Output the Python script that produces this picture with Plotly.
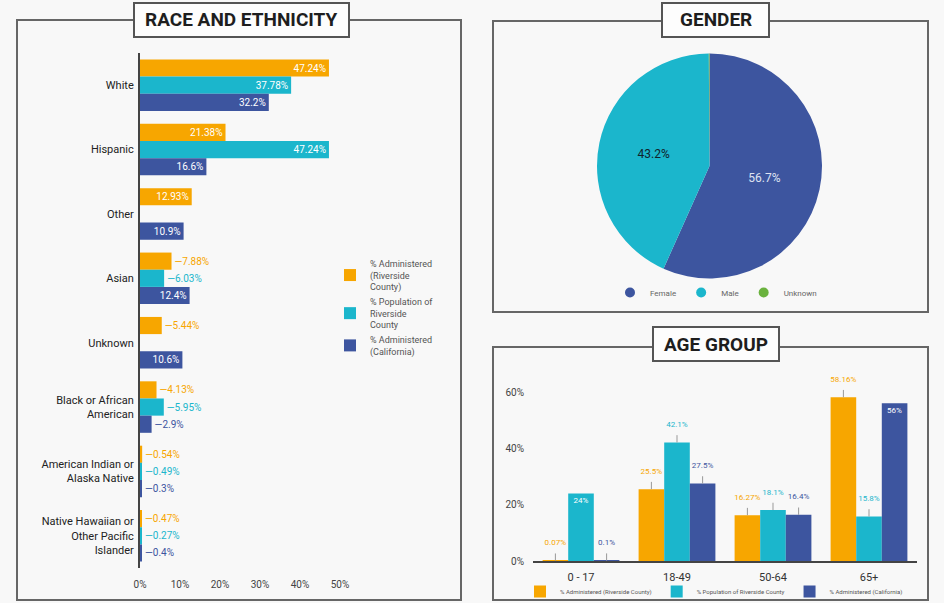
import plotly.graph_objects as go

# ---- data ----
race_cats = ["White", "Hispanic", "Other", "Asian", "Unknown",
             "Black or African<br>American", "American Indian or<br>Alaska Native",
             "Native Hawaiian or<br>Other Pacific<br>Islander"]
race_admin_riv = [47.24, 21.38, 12.93, 7.88, 5.44, 4.13, 0.54, 0.47]
race_pop_riv = [37.78, 47.24, None, 6.03, None, 5.95, 0.49, 0.27]
race_admin_ca = [32.2, 16.6, 10.9, 12.4, 10.6, 2.9, 0.3, 0.4]
race_ticks = [0, 10, 20, 30, 40, 50]

gender_labels = ["Female", "Male", "Unknown"]
gender_values = [56.7, 43.2, 0.1]

age_cats = ["0 - 17", "18-49", "50-64", "65+"]
age_admin_riv = [0.07, 25.5, 16.27, 58.16]
age_pop_riv = [24, 42.1, 18.1, 15.8]
age_admin_ca = [0.1, 27.5, 16.4, 56]
age_ticks = [0, 20, 40, 60]

series_names = ["% Administered<br>(Riverside<br>County)",
                "% Population of<br>Riverside<br>County",
                "% Administered<br>(California)"]
age_series_names = ["% Administered (Riverside County)",
                    "% Population of Riverside County",
                    "% Administered (California)"]

ORANGE = "#f7a600"
TEAL = "#1bb6cc"
BLUE = "#3d559f"
GREEN = "#6ab23e"
BG = "#f8f8f8"
W, H = 944, 603


def px(x):
    return x / W


def py(y):
    return 1 - y / H


fig = go.Figure()

# race and ethnicity (horizontal bars)
for vals, name, col in zip([race_admin_riv, race_pop_riv, race_admin_ca], series_names,
                           [ORANGE, TEAL, BLUE]):
    text, pos = [], []
    for v in vals:
        if v is None:
            text.append("")
            pos.append("none")
        elif v >= 10:
            text.append(f"{v}%")
            pos.append("inside")
        else:
            text.append(f"—{v}%")
            pos.append("outside")
    fig.add_trace(go.Bar(
        y=race_cats, x=vals, orientation="h", name=name,
        marker=dict(color=col, line=dict(width=0)),
        text=text, textposition=pos, insidetextanchor="end",
        insidetextfont=dict(color="white", size=10),
        outsidetextfont=dict(color=col, size=10),
        constraintext="none", cliponaxis=False,
        xaxis="x", yaxis="y", legend="legend"))

# age group (vertical bars)
for vals, name, col in zip([age_admin_riv, age_pop_riv, age_admin_ca], age_series_names,
                           [ORANGE, TEAL, BLUE]):
    text, pos, err = [], [], []
    for v in vals:
        if v in (24, 56):
            text.append(f"{v}%")
            pos.append("inside")
            err.append(0)
        else:
            text.append(f"{v}%<br> ")
            pos.append("outside")
            err.append(2.6)
    fig.add_trace(go.Bar(
        x=age_cats, y=vals, name=name,
        marker=dict(color=col, line=dict(width=0)),
        text=text, textposition=pos, insidetextanchor="end",
        insidetextfont=dict(color="white", size=8),
        outsidetextfont=dict(color=col, size=8),
        error_y=dict(type="data", array=err, arrayminus=[0] * 4, symmetric=False,
                     color="#999999", thickness=1, width=0),
        constraintext="none", cliponaxis=False,
        xaxis="x2", yaxis="y2", legend="legend2"))

# gender pie
fig.add_trace(go.Pie(
    labels=gender_labels, values=gender_values, sort=False, direction="clockwise",
    rotation=0, marker=dict(colors=[BLUE, TEAL, GREEN]),
    text=[f"{v}%" for v in gender_values[:2]] + [""], textinfo="text",
    textposition="inside",
    insidetextfont=dict(color=["#dfe3f2", "#10232b", "white"], size=12),
    domain=dict(x=[px(597), px(822)], y=[py(279), py(53)]),
    showlegend=False, hoverinfo="label+value"))

for lab, col in zip(gender_labels, [BLUE, TEAL, GREEN]):
    fig.add_trace(go.Scatter(x=[None], y=[None], mode="markers", name=lab,
                             marker=dict(color=col, size=10, symbol="circle"),
                             xaxis="x2", yaxis="y2", legend="legend3"))

# panel frames and title boxes
shapes = []
for x0, y0, x1, y1 in [(17, 20, 461, 600), (493, 21, 928, 312), (493, 347, 928, 600)]:
    shapes.append(dict(type="rect", xref="paper", yref="paper",
                       x0=px(x0), x1=px(x1), y0=py(y1), y1=py(y0),
                       line=dict(color="#666666", width=2), fillcolor="rgba(0,0,0,0)"))
titles = [("RACE AND ETHNICITY", 134, 3, 349, 37), ("GENDER", 662, 3, 769, 37),
          ("AGE GROUP", 653, 327, 779, 361)]
annotations = []
for t, x0, y0, x1, y1 in titles:
    shapes.append(dict(type="rect", xref="paper", yref="paper",
                       x0=px(x0), x1=px(x1), y0=py(y1), y1=py(y0),
                       line=dict(color="#555555", width=2), fillcolor="#fdfdfd"))
    annotations.append(dict(text=f"<b>{t}</b>", xref="paper", yref="paper",
                            x=px((x0 + x1) / 2), y=py((y0 + y1) / 2),
                            showarrow=False, xanchor="center", yanchor="middle",
                            font=dict(family="Roboto", size=19, color="#1e1e1e")))

fig.update_layout(
    width=W, height=H, margin=dict(l=0, r=0, t=0, b=0, autoexpand=False),
    paper_bgcolor=BG, plot_bgcolor=BG,
    font=dict(family="Roboto, Liberation Sans, sans-serif", color="#333333"),
    barmode="group", bargap=0.2, bargroupgap=0,
    shapes=shapes, annotations=annotations,
    xaxis=dict(domain=[px(140), px(348)], range=[0, 52], showgrid=False, zeroline=False,
               tickmode="array", tickvals=race_ticks, automargin=False,
               ticktext=[f"{v}%" for v in race_ticks], ticklabelstandoff=9,
               tickfont=dict(size=10, color="#444444"), ticks="", showline=False),
    yaxis=dict(domain=[py(568), py(53)], autorange="reversed", showgrid=False,
               showline=True, linecolor="#444444", linewidth=2, ticks="", automargin=False,
               tickfont=dict(size=11, color="#222222"), ticklabelstandoff=2),
    xaxis2=dict(domain=[px(533), px(917)], anchor="y2", showgrid=False, zeroline=False,
                showline=True, linecolor="#444444", linewidth=2, ticks="", automargin=False,
                ticklabelstandoff=5, tickfont=dict(size=11, color="#333333")),
    yaxis2=dict(domain=[py(561), py(378)], anchor="x2", range=[0, 65], showgrid=False,
                zeroline=False, showline=False, tickmode="array", tickvals=age_ticks,
                ticktext=[f"{v}%" for v in age_ticks], ticklabelstandoff=8,
                automargin=False, tickfont=dict(size=10, color="#444444"), ticks=""),
    legend=dict(xref="container", yref="container", x=px(330), y=py(251),
                xanchor="left", yanchor="top",
                font=dict(size=9, color="#555555"), bgcolor="rgba(0,0,0,0)",
                tracegroupgap=2, itemwidth=30),
    legend2=dict(xref="container", yref="container", orientation="h", x=px(520),
                 y=py(577), xanchor="left", yanchor="top",
                 font=dict(size=6, color="#555555"), bgcolor="rgba(0,0,0,0)",
                 itemwidth=30),
    legend3=dict(xref="container", yref="container", orientation="h", x=px(716),
                 y=py(278), xanchor="center", yanchor="top",
                 font=dict(size=8, color="#666666"), bgcolor="rgba(0,0,0,0)"),
)

# drop the default page margin so the 944x603 figure fills the window exactly
fig.write_html("out.html", config={"displayModeBar": False},
               post_script="document.body.style.margin='0';"
                           "document.body.style.overflow='hidden';")
